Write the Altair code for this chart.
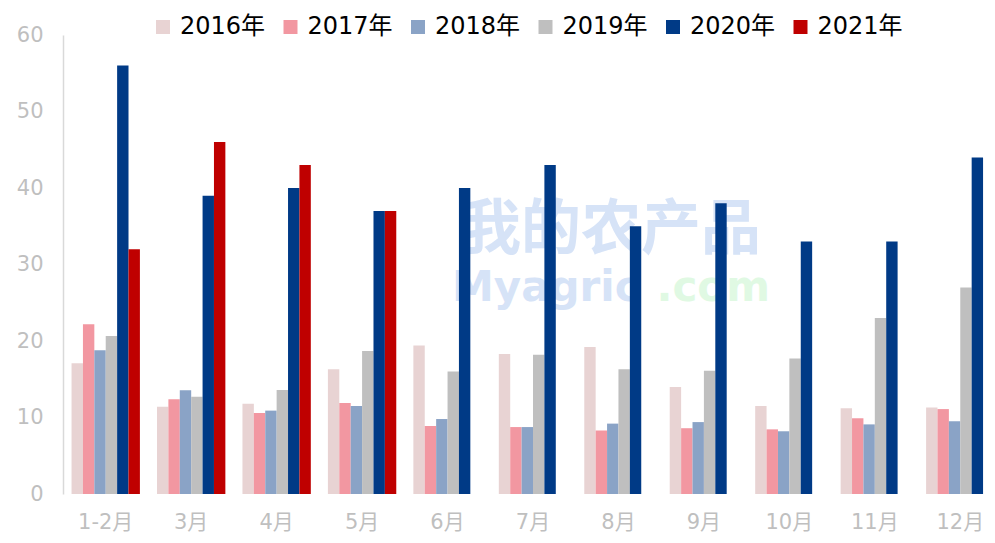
import altair as alt
import pandas as pd

months = ["1-2月", "3月", "4月", "5月", "6月", "7月", "8月", "9月", "10月", "11月", "12月"]
years = ["2016年", "2017年", "2018年", "2019年", "2020年", "2021年"]
v2016 = [17.1, 11.4, 11.8, 16.3, 19.4, 18.3, 19.2, 14.0, 11.5, 11.2, 11.3]
v2017 = [22.2, 12.4, 10.6, 11.9, 8.9, 8.75, 8.3, 8.6, 8.45, 9.9, 11.1]
v2018 = [18.8, 13.55, 10.9, 11.5, 9.8, 8.75, 9.2, 9.4, 8.2, 9.1, 9.5]
v2019 = [20.65, 12.7, 13.6, 18.7, 16.0, 18.2, 16.3, 16.1, 17.7, 23.0, 27.0]
v2020 = [56, 39, 40, 37, 40, 43, 35, 38, 33, 33, 44]
v2021 = [32, 46, 43, 37]
colors = ["#E8D3D3", "#F297A1", "#8AA3C6", "#BFBFBF", "#003A86", "#BF0000"]
y_ticks = [0, 10, 20, 30, 40, 50, 60]
watermark_cn = ["我的农产品"]
watermark_en = ["Myagric"]
watermark_com = [".com"]

series = [v2016, v2017, v2018, v2019, v2020, v2021]
rows = []
for yr, vals in zip(years, series):
    for m, v in zip(months, vals):
        rows.append({"month": m, "year": yr, "value": v})
df = pd.DataFrame(rows)

FONT = "DejaVu Sans, Noto Sans CJK SC"

wm1 = alt.Chart(pd.DataFrame({"t": watermark_cn})).mark_text(
    font="Noto Sans CJK SC", fontSize=60, fontWeight="bold", color="#D6E3F7",
    align="center", baseline="middle"
).encode(text="t:N", x=alt.value(548), y=alt.value(196))

wm2 = alt.Chart(pd.DataFrame({"t": watermark_en})).mark_text(
    font="DejaVu Sans", fontSize=42, fontWeight="bold", color="#D6E3F7",
    align="left", baseline="alphabetic"
).encode(text="t:N", x=alt.value(389), y=alt.value(266))

wm3 = alt.Chart(pd.DataFrame({"t": watermark_com})).mark_text(
    font="DejaVu Sans", fontSize=42, fontWeight="bold", color="#E0F9E3",
    align="right", baseline="alphabetic"
).encode(text="t:N", x=alt.value(707), y=alt.value(266))

bars = alt.Chart(df).mark_bar().encode(
    x=alt.X(
        "month:N", sort=months,
        scale=alt.Scale(range=[0, 940], paddingInner=0.2, paddingOuter=0.1),
        axis=alt.Axis(title=None, labelAngle=0, domain=False, ticks=False,
                      labelPadding=17, labelFontSize=21, labelColor="#BFBFBF",
                      labelFont=FONT),
    ),
    xOffset=alt.XOffset("year:N", sort=years,
                        scale=alt.Scale(domain=years, paddingInner=0, paddingOuter=0)),
    y=alt.Y(
        "value:Q",
        scale=alt.Scale(domain=[0, 60], nice=False),
        axis=alt.Axis(title=None, values=y_ticks, grid=False, ticks=False,
                      domainColor="#D9D9D9", domainWidth=1.5,
                      labelPadding=20, labelFontSize=21, labelColor="#BFBFBF",
                      labelFont=FONT),
    ),
    color=alt.Color(
        "year:N",
        scale=alt.Scale(domain=years, range=colors),
        legend=alt.Legend(
            orient="none", legendX=88, legendY=-20, direction="horizontal",
            title=None, symbolType="square", symbolSize=196, symbolStrokeWidth=0,
            labelFontSize=24, labelColor="#000000", labelFont=FONT,
            labelOffset=5, columnPadding=12.5, padding=0,
        ),
    ),
)

chart = alt.layer(wm1, wm2, wm3, bars).properties(
    width=924, height=459,
    autosize=alt.AutoSizeParams(type="none"),
    padding={"left": 55, "top": 27, "right": 0, "bottom": 41},
).configure_view(stroke=None)

chart.save("out.html", embed_options={"renderer": "svg", "actions": False})
